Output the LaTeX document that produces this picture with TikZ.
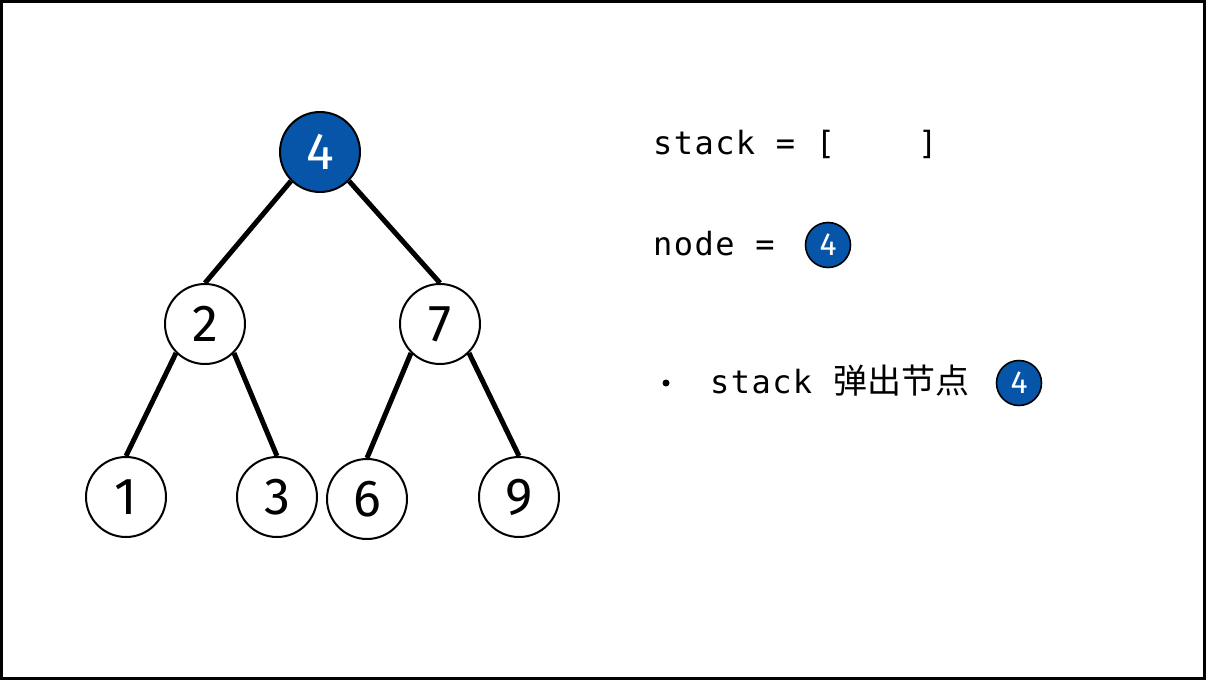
\documentclass[tikz,border=0pt]{standalone}
\usepackage{fontspec}
\setmainfont{Fira Sans}
\setmonofont[LetterSpace=4.5]{DejaVu Sans Mono}
\newfontfamily\cjk{Noto Sans CJK SC}
\definecolor{nodeblue}{RGB}{6,85,168}
\begin{document}
\begin{tikzpicture}[x=1pt,y=-1pt,
  tnode/.style={circle,draw=black,line width=2pt,fill=white,minimum size=80pt,inner sep=0pt,font=\fontsize{52}{52}\selectfont},
  hinode/.style={tnode,fill=nodeblue,text=white},
  mini/.style={circle,draw=black,line width=1.6pt,fill=nodeblue,text=white,minimum size=45pt,inner sep=0pt,font=\fontsize{32}{32}\selectfont},
  edge/.style={line width=5pt},
  code/.style={anchor=base west,inner sep=0pt,font=\ttfamily\fontsize{32}{32}\selectfont}]
\draw[line width=3pt,fill=white] (1.5,1.5) rectangle (1204.5,678.5);
\node[hinode] (n4) at (320,152) {4};
\node[tnode] (n2) at (205,324) {2};
\node[tnode] (n7) at (440,324) {7};
\node[tnode] (n1) at (126,497) {1};
\node[tnode] (n3) at (277,497) {3};
\node[tnode] (n6) at (367,499) {6};
\node[tnode] (n9) at (519,497) {9};
\draw[edge] (n4.south west) -- (n2.north);
\draw[edge] (n4.south east) -- (n7.north);
\draw[edge] (n2.south west) -- (n1.north);
\draw[edge] (n2.south east) -- (n3.north);
\draw[edge] (n7.south west) -- (n6.north);
\draw[edge] (n7.south east) -- (n9.north);
\node[code] (stk) at (653,154) {stack = [\ \ \ \ ]};
\node[code] (nd) at (653,255) {node =};
\node[mini] (m1) at (828,245) {4};
\node[circle,fill=black,inner sep=0pt,minimum size=7pt] (bul) at (666,383) {};
\node[code] (pop) at (710,393) {stack {\cjk\fontsize{34}{34}\selectfont 弹出节点}};
\node[mini] (m2) at (1019,383) {4};
\end{tikzpicture}
\end{document}
